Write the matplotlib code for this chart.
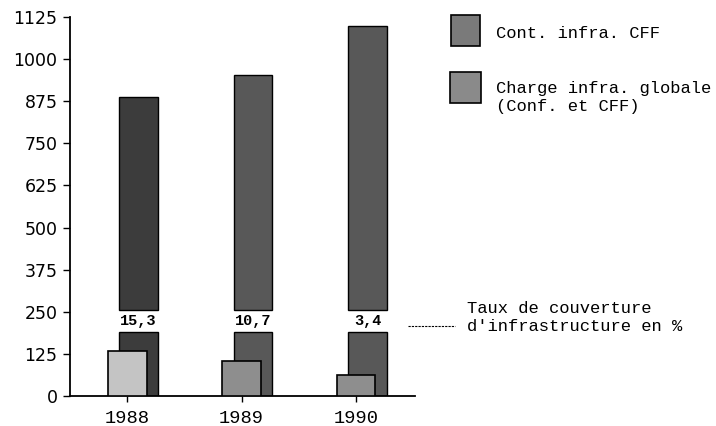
import matplotlib
matplotlib.use("Agg")
import matplotlib.pyplot as plt
from matplotlib.patches import Rectangle
from matplotlib.lines import Line2D
import numpy as np

# ---- data ----
years = ["1988", "1989", "1990"]
cont_cff = [133, 103, 63]            # Cont. infra. CFF
charge_globale = [888, 953, 1098]    # Charge infra. globale (Conf. et CFF)
taux_couverture = ["15,3", "10,7", "3,4"]
yticks = [0, 125, 250, 375, 500, 625, 750, 875, 1000, 1125]

# ---- style ----
mono = "Liberation Mono"
big_colors = ["#3c3c3c", "#585858", "#585858"]
small_colors = ["#c4c4c4", "#8e8e8e", "#8e8e8e"]
gap_low, gap_high, label_y = 190, 255, 224   # white band holding the rate labels

fig = plt.figure(figsize=(7.16, 4.26), dpi=100)
ax = fig.add_axes([0.0978, 0.0704, 0.4818, 0.8897])

x = np.arange(len(years))
w = 0.34
off = 0.1
tot = np.array(charge_globale, dtype=float)

# big bars in two segments (break for the label)
ax.bar(x + off, [gap_low] * len(x), width=w, color=big_colors,
       edgecolor="black", linewidth=1.0, zorder=2)
ax.bar(x + off, tot - gap_high, bottom=gap_high, width=w, color=big_colors,
       edgecolor="black", linewidth=1.0, zorder=2)
# small bars in front
ax.bar(x, cont_cff, width=w, color=small_colors, edgecolor="black",
       linewidth=1.2, zorder=3)

for xi, lab in zip(x, taux_couverture):
    ax.text(xi + off, label_y, lab, ha="center", va="center",
            fontsize=11, fontweight="bold", family=mono)

ax.set_xlim(-0.498, 2.515)
ax.set_ylim(0, 1125)
ax.set_yticks(yticks)
ax.set_yticklabels([str(v) for v in yticks], fontsize=12.5, family="DejaVu Sans")
ax.set_xticks(x)
ax.set_xticklabels(years, fontsize=13.5, family=mono)
ax.tick_params(axis="y", length=5, width=1, pad=4)
ax.tick_params(axis="x", length=4, width=1, pad=6)
ax.spines["top"].set_visible(False)
ax.spines["right"].set_visible(False)
for s in ("left", "bottom"):
    ax.spines[s].set_linewidth(1.3)

# ---- legend (manual) ----
fig.patches.append(Rectangle((0.630, 0.892), 0.0405, 0.0728, transform=fig.transFigure,
                             facecolor="#7a7a7a", edgecolor="black", linewidth=1.2))
fig.patches.append(Rectangle((0.6285, 0.7582), 0.0433, 0.0728, transform=fig.transFigure,
                             facecolor="#8a8a8a", edgecolor="black", linewidth=1.2))
fig.text(0.6927, 0.9225, "Cont. infra. CFF", family=mono, fontsize=12.3, va="center")
fig.text(0.6927, 0.771, "Charge infra. globale\n(Conf. et CFF)", family=mono,
         fontsize=12.3, va="center", linespacing=1.3)

# ---- annotation ----
fig.lines.append(Line2D([0.5698, 0.6355], [0.2347, 0.2347], transform=fig.transFigure,
                        color="black", linewidth=0.8, linestyle=(0, (2, 1))))
fig.text(0.652, 0.2547, "Taux de couverture\nd'infrastructure en %", family=mono,
         fontsize=12.3, va="center", linespacing=1.3)

fig.savefig("out.png", dpi=100)
